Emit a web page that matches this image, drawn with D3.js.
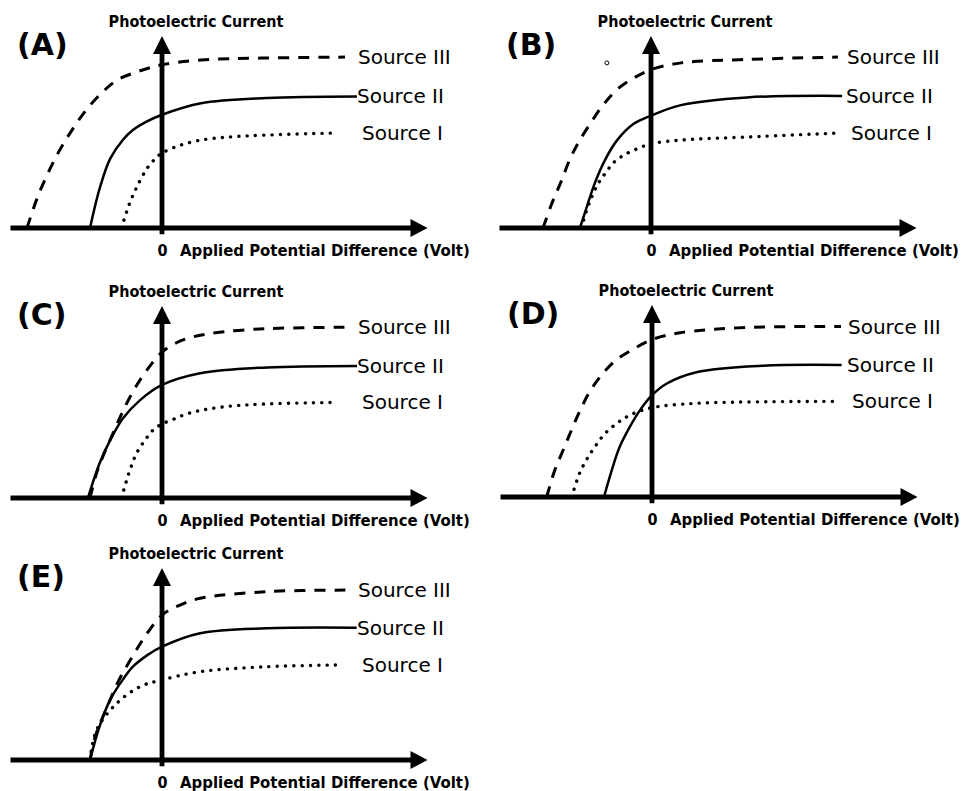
<!DOCTYPE html>
<html>
<head>
<meta charset="utf-8">
<script src="https://cdn.jsdelivr.net/npm/d3@7"></script>
<style>
  body { margin: 0; background: #fff; }
  text { fill: #000; }
  .panel-letter { font-family: "DejaVu Sans"; font-weight: bold; font-size: 30px; }
  .axis-title { font-family: "DejaVu Sans Condensed", "DejaVu Sans"; font-stretch: semi-condensed; font-weight: bold; font-size: 16px; }
  .x-title { font-size: 16.6px; }
  .src-label { font-family: "DejaVu Sans"; font-size: 20px; }
  .tick text { font-family: "DejaVu Sans Condensed", "DejaVu Sans"; font-stretch: semi-condensed; font-weight: bold; font-size: 16px; }
</style>
</head>
<body>
<svg id="chart" width="961" height="791"></svg>
<script>
// panel names and source names
var panelNames = ["A", "B", "C", "D", "E"];
var sourceNames = ["Source III", "Source II", "Source I"];
var tickValues = [0];
var yTitle = "Photoelectric Current";
var xTitle = "Applied Potential Difference (Volt)";

// curves: [volt, current] pairs
var A_III = [[-4.5,0],[-4.1,1.8],[-3.5,3.8],[-3.0,5.1],[-2.5,6.2],[-2.0,7.05],[-1.5,7.7],[-0.8,8.15],[0,8.5],[1.3,8.75],[3.3,8.85],[6.1,8.9]];
var A_II  = [[-2.4,0],[-2.07,2.1],[-1.73,3.6],[-1.3,4.6],[-0.97,5.1],[-0.5,5.55],[0,5.9],[1.3,6.5],[3.5,6.77],[6.5,6.85]];
var A_I   = [[-1.35,0],[-1.1,1.2],[-0.85,2.1],[-0.5,3.1],[-0.2,3.65],[0,3.9],[0.5,4.25],[1.2,4.55],[2.4,4.76],[5.87,4.95]];

var B_III = [[-3.6,0],[-3.3,1.3],[-3.0,2.4],[-2.7,3.6],[-2.4,4.5],[-2.0,5.5],[-1.6,6.4],[-1.14,7.2],[-0.64,7.75],[0,8.25],[1.0,8.6],[3.2,8.78],[6.23,8.9]];
var B_II  = [[-2.37,0],[-2.14,1.1],[-1.87,2.35],[-1.53,3.55],[-1.14,4.55],[-0.6,5.4],[0,5.85],[1.0,6.4],[3.2,6.8],[6.37,6.88]];
var B_I   = [[-2.32,0],[-2.14,0.95],[-1.95,1.7],[-1.75,2.35],[-1.5,2.9],[-1.25,3.4],[-0.9,3.8],[-0.5,4.1],[0,4.38],[1.0,4.58],[3.2,4.74],[6.3,4.95]];

var C_III = [[-2.4,0],[-2.18,1.3],[-1.96,2.2],[-1.68,3.2],[-1.4,4.2],[-1.07,5.25],[-0.73,6.15],[-0.34,7.0],[0,7.6],[0.5,8.1],[1.05,8.4],[2.0,8.65],[3.5,8.82],[6.2,8.9]];
var C_II  = [[-2.47,0],[-2.07,1.85],[-1.73,3.0],[-1.3,4.15],[-0.73,5.1],[0,5.89],[1.27,6.5],[3.5,6.8],[6.5,6.88]];
var C_I   = [[-1.35,0],[-1.07,1.45],[-0.84,2.35],[-0.57,3.0],[-0.29,3.55],[0,3.85],[0.38,4.1],[0.93,4.43],[2.37,4.8],[5.87,4.98]];

var D_III = [[-3.51,0],[-3.24,1.4],[-2.96,2.45],[-2.68,3.5],[-2.4,4.5],[-2.07,5.5],[-1.63,6.45],[-1.18,7.15],[-0.63,7.7],[0,8.2],[0.93,8.55],[3.16,8.83],[6.3,8.88]];
var D_II  = [[-1.6,0],[-1.34,1.4],[-1.08,2.6],[-0.74,3.65],[-0.41,4.5],[0,5.3],[0.48,5.9],[1.48,6.5],[3.7,6.84],[6.32,6.88]];
var D_I   = [[-2.68,0],[-2.41,1.25],[-2.18,1.95],[-1.91,2.6],[-1.57,3.3],[-1.18,3.82],[-0.74,4.26],[0,4.65],[1.48,4.88],[6.03,4.98]];

var E_III = [[-2.4,0],[-2.23,1.2],[-2.01,2.1],[-1.73,3.13],[-1.46,4.08],[-1.12,5.04],[-0.79,5.9],[-0.46,6.68],[0,7.55],[0.6,8.07],[1.27,8.42],[3.49,8.77],[6.21,8.85]];
var E_II  = [[-2.4,0],[-2.07,1.8],[-1.73,3.13],[-1.3,4.2],[-0.97,4.86],[-0.5,5.45],[0,5.9],[1.27,6.6],[3.49,6.86],[6.49,6.89]];
var E_I   = [[-2.4,0],[-2.18,1.56],[-1.51,2.95],[-0.73,3.82],[0,4.17],[1.27,4.6],[3.49,4.86],[6.04,4.95]];

// stray little ring that sits in panel B
var B_stray = [[-1.47, 8.6]];

var curves = {
  A: [A_III, A_II, A_I],
  B: [B_III, B_II, B_I],
  C: [C_III, C_II, C_I],
  D: [D_III, D_II, D_I],
  E: [E_III, E_II, E_I]
};
var strays = { B: B_stray };

// layout
var offsets = { A: [0, 0], B: [489, 0], C: [0, 270], D: [490, 269], E: [0, 532] };
var labelX = [358, 357, 362];
var lineStyles = [
  { width: 3, dash: "11,9", cap: "butt" },
  { width: 2.5, dash: null, cap: "butt" },
  { width: 3.4, dash: "0.1,8.2", cap: "round" }
];

var x = d3.scaleLinear().domain([-5.05, 8.85]).range([10.5, 427.5]);
var y = d3.scaleLinear().domain([0, 10]).range([228, 36]);

var line = d3.line()
    .x(function(d) { return x(d[0]); })
    .y(function(d) { return y(d[1]); })
    .curve(d3.curveCatmullRom.alpha(0.5));

var svg = d3.select("#chart");

function draw_panel(name) {
  var g = svg.append("g")
      .attr("transform", "translate(" + offsets[name][0] + "," + offsets[name][1] + ")");

  // curves
  curves[name].forEach(function(c, i) {
    var s = lineStyles[i];
    g.append("path")
        .attr("d", line(c))
        .attr("fill", "none")
        .attr("stroke", "#000")
        .attr("stroke-width", s.width)
        .attr("stroke-linecap", s.cap)
        .attr("stroke-dasharray", s.dash);

    var last = c[c.length - 1];
    g.append("text")
        .attr("class", "src-label")
        .attr("x", labelX[i])
        .attr("y", y(last[1]) + 7)
        .text(sourceNames[i]);
  });

  if (strays[name]) {
    g.selectAll(".stray").data(strays[name]).enter().append("circle")
        .attr("cx", function(d) { return x(d[0]); })
        .attr("cy", function(d) { return y(d[1]); })
        .attr("r", 2)
        .attr("fill", "#fff")
        .attr("stroke", "#000")
        .attr("stroke-width", 1);
  }

  // x axis with arrow
  var x0 = x.range()[0], x1 = x.range()[1], y0 = y(0);
  g.append("line")
      .attr("x1", x0).attr("x2", x1 - 12)
      .attr("y1", y0).attr("y2", y0)
      .attr("stroke", "#000").attr("stroke-width", 4.8);
  g.append("path")
      .attr("d", "M" + x1 + "," + y0 + "L" + (x1 - 17) + "," + (y0 - 9) + "L" + (x1 - 17) + "," + (y0 + 9) + "Z")
      .attr("fill", "#000");

  // y axis with arrow
  var yTop = y.range()[1];
  g.append("line")
      .attr("x1", x(0)).attr("x2", x(0))
      .attr("y1", y(-0.32)).attr("y2", yTop + 12)
      .attr("stroke", "#000").attr("stroke-width", 4.8);
  g.append("path")
      .attr("d", "M" + x(0) + "," + yTop + "L" + (x(0) - 9) + "," + (yTop + 18) + "L" + (x(0) + 9) + "," + (yTop + 18) + "Z")
      .attr("fill", "#000");

  // tick label "0"
  var ax = g.append("g")
      .attr("transform", "translate(0," + y0 + ")")
      .call(d3.axisBottom(x).tickValues(tickValues).tickSize(0).tickPadding(28));
  ax.select(".domain").remove();
  ax.selectAll(".tick text").attr("fill", "#000").attr("dy", "0");

  g.append("text")
      .attr("class", "axis-title x-title")
      .attr("x", 180)
      .attr("y", 256)
      .text(xTitle);

  g.append("text")
      .attr("class", "axis-title")
      .attr("x", 196)
      .attr("y", 27)
      .attr("text-anchor", "middle")
      .text(yTitle);

  g.append("text")
      .attr("class", "panel-letter")
      .attr("x", 17)
      .attr("y", 55)
      .text("(" + name + ")");
}

panelNames.forEach(draw_panel);
</script>
</body>
</html>
